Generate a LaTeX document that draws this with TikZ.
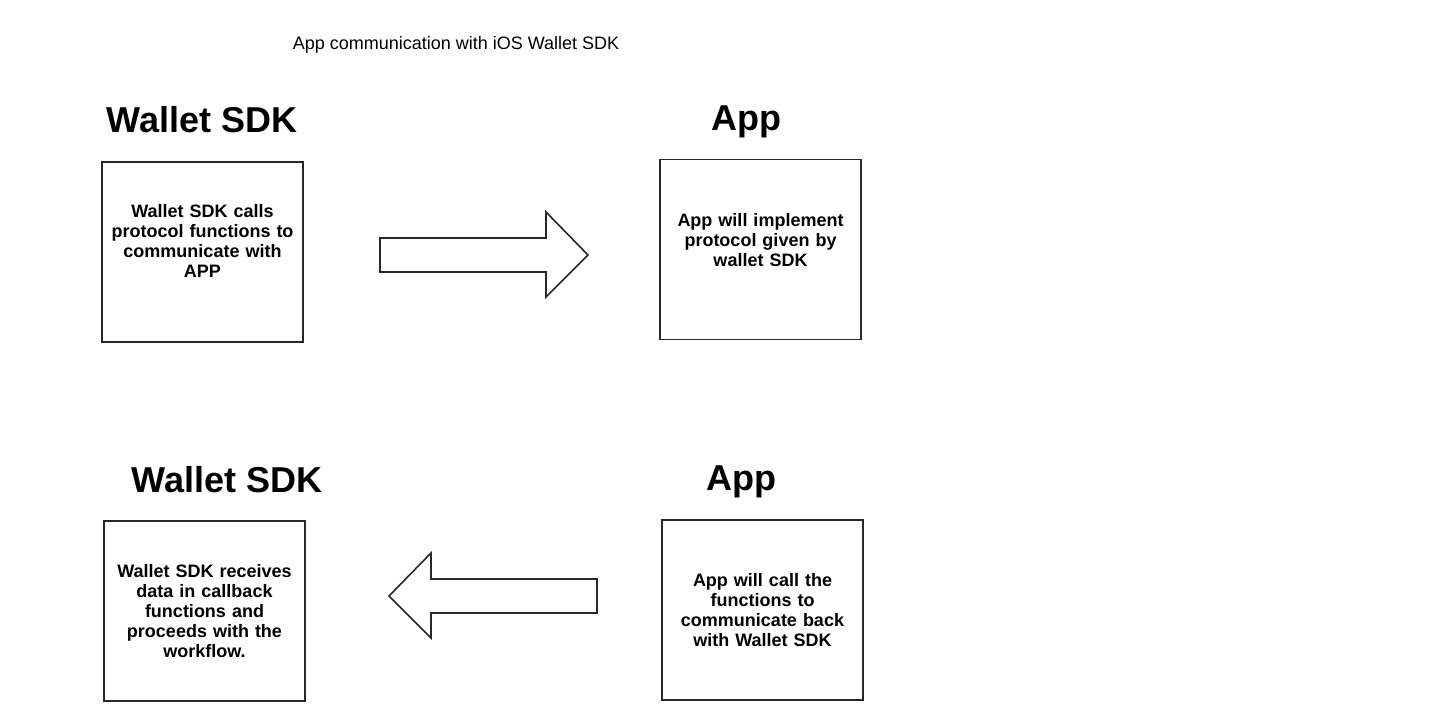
\documentclass[tikz,border=0pt]{standalone}
\usepackage{fontspec}
\setmainfont{Liberation Sans}
\definecolor{ln}{RGB}{40,40,40}
\begin{document}
\begin{tikzpicture}[x=1pt,y=-1pt,
  box/.style={draw=ln,line width=1.6pt,minimum width=201pt,minimum height=180pt,inner sep=0pt},
  boxtext/.style={font=\bfseries\fontsize{18}{20}\selectfont,align=center,text width=190pt,inner sep=0pt},
  heading/.style={font=\bfseries\fontsize{36}{40}\selectfont,inner sep=0pt},
  bigarrow/.style={draw=ln,line width=1.6pt,fill=white,line join=miter}]
\useasboundingbox (0,0) rectangle (1448,720);
\node[font=\fontsize{18}{20}\selectfont,inner sep=0pt] (title) at (456,45) {App communication with iOS Wallet SDK};
\node[heading] (h1) at (202,120) {Wallet SDK};
\node[heading] (h2) at (746,122) {App};
\node[heading] (h3) at (227,480) {Wallet SDK};
\node[heading] (h4) at (741,482) {App};
\node[box] (b1) at (202.5,252) {};
\node[box] (b2) at (760.5,249.5) {};
\node[box] (b3) at (204.5,611) {};
\node[box] (b4) at (762.5,610) {};
\node[boxtext] (t1) at (202.5,241) {Wallet SDK calls\\protocol functions to\\communicate with\\APP};
\node[boxtext] (t2) at (760.5,240) {App will implement\\protocol given by\\wallet SDK};
\node[boxtext] (t3) at (204.5,611) {Wallet SDK receives\\data in callback\\functions and\\proceeds with the\\workflow.};
\node[boxtext] (t4) at (762.5,610) {App will call the\\functions to\\communicate back\\with Wallet SDK};
\draw[bigarrow] (380,238) -- (546,238) -- (546,212) -- (588,255) -- (546,297) -- (546,272) -- (380,272) -- cycle;
\draw[bigarrow] (597,579) -- (431,579) -- (431,553) -- (389,596) -- (431,638) -- (431,613) -- (597,613) -- cycle;
\end{tikzpicture}
\end{document}
